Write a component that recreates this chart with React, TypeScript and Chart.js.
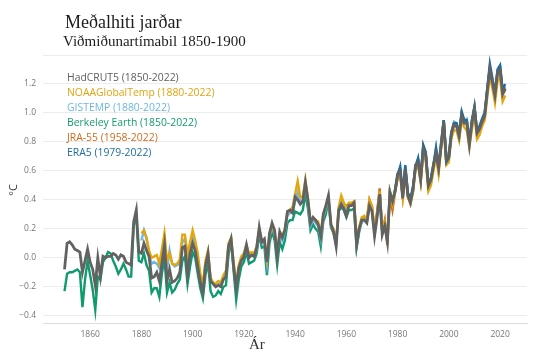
import { useEffect, useRef } from 'react';
import { Chart, registerables } from 'chart.js';

Chart.register(...registerables);

const TITLE = 'Meðalhiti jarðar';
const SUBTITLE = 'Viðmiðunartímabil 1850-1900';
const Y_TITLE = '°C';
const X_TITLE = 'Ár';

const yTickValues = [-0.4, -0.2, 0, 0.2, 0.4, 0.6, 0.8, 1.0, 1.2, 1.4];
const xTickValues = [1860, 1880, 1900, 1920, 1940, 1960, 1980, 2000, 2020];

const hadcrutStart = 1850;
const hadcrut5 = [
  -0.08, 0.10, 0.11, 0.09, 0.06, 0.05, 0.04, -0.10, -0.02, 0.06,
  -0.03, -0.08, -0.19, 0.00, -0.13, 0.01, 0.00, 0.01, 0.01, 0.03,
  0.02, -0.01, 0.02, 0.01, -0.03, -0.04, -0.05, 0.25, 0.33, 0.04,
  0.03, 0.10, 0.05, 0.01, -0.14, -0.13, -0.10, -0.16, -0.04, 0.09,
  -0.16, -0.08, -0.17, -0.16, -0.14, -0.10, 0.07, 0.08, -0.12, 0.03,
  0.10, 0.05, -0.06, -0.17, -0.24, -0.06, 0.03, -0.16, -0.18, -0.20,
  -0.19, -0.20, -0.15, -0.13, 0.08, 0.13, -0.06, -0.21, -0.07, -0.02,
  0.01, 0.09, 0.00, 0.02, 0.01, 0.07, 0.21, 0.11, 0.13, -0.03,
  0.17, 0.24, 0.19, 0.01, 0.18, 0.14, 0.19, 0.32, 0.33, 0.31,
  0.42, 0.40, 0.37, 0.39, 0.52, 0.40, 0.24, 0.28, 0.26, 0.23,
  0.15, 0.30, 0.36, 0.43, 0.23, 0.18, 0.08, 0.33, 0.37, 0.34,
  0.29, 0.36, 0.36, 0.38, 0.09, 0.20, 0.26, 0.26, 0.24, 0.36,
  0.32, 0.15, 0.28, 0.44, 0.16, 0.22, 0.11, 0.45, 0.39, 0.46,
  0.58, 0.60, 0.41, 0.61, 0.43, 0.38, 0.47, 0.64, 0.66, 0.54,
  0.75, 0.70, 0.50, 0.54, 0.64, 0.72, 0.62, 0.78, 0.94, 0.68,
  0.70, 0.86, 0.92, 0.91, 0.84, 0.98, 0.93, 0.93, 0.78, 0.93,
  1.03, 0.86, 0.89, 0.94, 0.98, 1.15, 1.30, 1.21, 1.12, 1.28,
  1.30, 1.13, 1.17,
];

const noaaStart = 1880;
const noaaGlobalTemp = [
  0.17, 0.19, 0.14, 0.05, 0.00, 0.01, 0.02, -0.04, 0.06, 0.17,
  -0.02, 0.03, -0.04, -0.05, -0.04, -0.01, 0.16, 0.16, 0.02, 0.11,
  0.19, 0.12, 0.03, -0.11, -0.18, -0.02, 0.05, -0.14, -0.17, -0.18,
  -0.16, -0.17, -0.12, -0.09, 0.10, 0.14, -0.03, -0.18, -0.05, 0.01,
  0.03, 0.09, 0.03, 0.04, 0.03, 0.08, 0.20, 0.12, 0.12, -0.01,
  0.16, 0.22, 0.18, 0.04, 0.17, 0.15, 0.20, 0.31, 0.33, 0.35,
  0.44, 0.53, 0.42, 0.42, 0.54, 0.41, 0.25, 0.27, 0.26, 0.25,
  0.16, 0.30, 0.36, 0.42, 0.23, 0.20, 0.11, 0.35, 0.43, 0.38,
  0.35, 0.38, 0.38, 0.39, 0.14, 0.21, 0.28, 0.29, 0.26, 0.40,
  0.36, 0.19, 0.30, 0.46, 0.20, 0.25, 0.13, 0.45, 0.37, 0.45,
  0.55, 0.58, 0.42, 0.60, 0.42, 0.37, 0.45, 0.61, 0.64, 0.52,
  0.72, 0.67, 0.46, 0.50, 0.60, 0.70, 0.58, 0.76, 0.90, 0.64,
  0.66, 0.83, 0.88, 0.88, 0.81, 0.95, 0.90, 0.88, 0.76, 0.89,
  0.98, 0.82, 0.85, 0.91, 0.95, 1.11, 1.25, 1.17, 1.07, 1.22,
  1.24, 1.08, 1.12,
];

const gistempStart = 1880;
const gistemp = [
  0.12, 0.19, 0.13, 0.02, -0.04, -0.03, -0.04, -0.07, 0.00, 0.12,
  -0.08, 0.05, -0.04, -0.06, -0.05, -0.04, 0.11, 0.13, -0.02, 0.08,
  0.15, 0.09, -0.01, -0.13, -0.20, -0.06, 0.02, -0.15, -0.18, -0.20,
  -0.18, -0.18, -0.14, -0.12, 0.07, 0.13, -0.06, -0.20, -0.07, -0.02,
  0.01, 0.08, 0.00, 0.02, 0.01, 0.06, 0.19, 0.10, 0.11, -0.04,
  0.15, 0.21, 0.16, 0.03, 0.15, 0.12, 0.18, 0.29, 0.31, 0.31,
  0.39, 0.45, 0.39, 0.39, 0.50, 0.38, 0.22, 0.26, 0.24, 0.22,
  0.13, 0.28, 0.34, 0.41, 0.22, 0.18, 0.09, 0.33, 0.39, 0.36,
  0.31, 0.37, 0.37, 0.38, 0.10, 0.19, 0.26, 0.27, 0.25, 0.38,
  0.34, 0.17, 0.29, 0.45, 0.18, 0.24, 0.12, 0.45, 0.38, 0.47,
  0.58, 0.62, 0.43, 0.63, 0.45, 0.40, 0.48, 0.64, 0.68, 0.56,
  0.77, 0.72, 0.51, 0.55, 0.65, 0.76, 0.64, 0.80, 0.95, 0.70,
  0.72, 0.87, 0.94, 0.93, 0.86, 1.00, 0.95, 0.96, 0.81, 0.95,
  1.05, 0.88, 0.91, 0.96, 1.01, 1.17, 1.32, 1.23, 1.14, 1.29,
  1.32, 1.15, 1.18,
];

const berkeleyStart = 1850;
const berkeleyEarth = [
  -0.23, -0.11, -0.10, -0.10, -0.09, -0.08, -0.10, -0.34, -0.15, -0.02,
  -0.12, -0.22, -0.36, -0.13, -0.15, -0.03, 0.00, 0.04, 0.03, -0.02,
  -0.06, -0.11, -0.08, -0.04, -0.08, -0.13, -0.13, 0.22, 0.30, -0.02,
  -0.03, 0.03, -0.05, -0.09, -0.24, -0.21, -0.21, -0.27, -0.11, 0.00,
  -0.24, -0.17, -0.24, -0.22, -0.18, -0.15, -0.02, 0.01, -0.18, -0.06,
  0.04, 0.00, -0.11, -0.21, -0.28, -0.12, -0.03, -0.23, -0.27, -0.26,
  -0.23, -0.25, -0.20, -0.19, 0.02, 0.12, -0.09, -0.29, -0.15, -0.06,
  -0.03, 0.04, -0.04, -0.03, -0.02, 0.03, 0.16, 0.07, 0.08, -0.12,
  0.10, 0.18, 0.12, -0.05, 0.11, 0.06, 0.12, 0.24, 0.26, 0.26,
  0.32, 0.31, 0.30, 0.33, 0.44, 0.34, 0.19, 0.23, 0.20, 0.18,
  0.08, 0.25, 0.30, 0.40, 0.21, 0.17, 0.10, 0.32, 0.35, 0.33,
  0.28, 0.33, 0.33, 0.34, 0.07, 0.18, 0.25, 0.27, 0.25, 0.36,
  0.33, 0.17, 0.30, 0.45, 0.18, 0.24, 0.13, 0.46, 0.39, 0.47,
  0.56, 0.60, 0.42, 0.61, 0.44, 0.39, 0.48, 0.63, 0.67, 0.55,
  0.75, 0.71, 0.50, 0.55, 0.64, 0.74, 0.63, 0.79, 0.95, 0.69,
  0.71, 0.87, 0.93, 0.92, 0.85, 0.99, 0.94, 0.95, 0.80, 0.94,
  1.04, 0.87, 0.90, 0.95, 1.00, 1.15, 1.30, 1.22, 1.13, 1.27,
  1.30, 1.14, 1.17,
];

const jra55Start = 1958;
const jra55 = [
  0.42, 0.37,
  0.36, 0.37, 0.36, 0.38, 0.12, 0.20, 0.27, 0.28, 0.27, 0.40,
  0.35, 0.19, 0.32, 0.48, 0.18, 0.26, 0.09, 0.43, 0.33, 0.45,
  0.55, 0.58, 0.42, 0.60, 0.42, 0.38, 0.46, 0.62, 0.65, 0.53,
  0.73, 0.69, 0.48, 0.52, 0.62, 0.72, 0.60, 0.77, 0.93, 0.67,
  0.69, 0.85, 0.91, 0.91, 0.84, 0.98, 0.93, 0.93, 0.79, 0.93,
  1.02, 0.86, 0.89, 0.94, 0.98, 1.15, 1.29, 1.20, 1.11, 1.27,
  1.28, 1.13, 1.16,
];

const era5Start = 1979;
const era5 = [
  0.46,
  0.57, 0.63, 0.45, 0.64, 0.45, 0.41, 0.49, 0.63, 0.69, 0.56,
  0.78, 0.73, 0.50, 0.54, 0.64, 0.76, 0.63, 0.78, 0.95, 0.66,
  0.69, 0.86, 0.93, 0.93, 0.86, 1.01, 0.95, 0.95, 0.80, 0.95,
  1.04, 0.87, 0.91, 0.96, 1.00, 1.17, 1.34, 1.24, 1.14, 1.30,
  1.33, 1.16, 1.20,
];

const legendLabels = [
  'HadCRUT5 (1850-2022)',
  'NOAAGlobalTemp (1880-2022)',
  'GISTEMP (1880-2022)',
  'Berkeley Earth (1850-2022)',
  'JRA-55 (1958-2022)',
  'ERA5 (1979-2022)',
];
const legendColors = ['#606060', '#e2a310', '#6db6e3', '#139a70', '#d06b1c', '#1f6c9f'];

const toPoints = (start: number, vals: number[]) => vals.map((v, i) => ({ x: start + i, y: v }));

const fmtY = (v: number) => {
  const s = Math.abs(v).toFixed(1);
  return v < -0.001 ? '\u2212' + s : s;
};

export default function App() {
  const ref = useRef<HTMLCanvasElement>(null);

  useEffect(() => {
    if (!ref.current) return;

    const textPlugin = {
      id: 'texts',
      afterDraw(chart: any) {
        const ctx = chart.ctx;
        ctx.save();
        ctx.fillStyle = '#1c1c1c';
        ctx.textAlign = 'left';
        ctx.textBaseline = 'alphabetic';
        ctx.font = '18px "Liberation Serif"';
        ctx.fillText(TITLE, 65, 28);
        ctx.font = '15px "Liberation Serif"';
        ctx.fillText(SUBTITLE, 63, 46);

        ctx.font = '10.4px "Open Sans"';
        ctx.textBaseline = 'middle';
        legendLabels.forEach((t, i) => {
          ctx.fillStyle = legendColors[i];
          ctx.fillText(t, 67, 78.5 + i * 14.85);
        });

        ctx.fillStyle = '#333';
        ctx.font = '15px "Liberation Serif"';
        ctx.textBaseline = 'alphabetic';
        ctx.fillText(X_TITLE, 249, 349);

        ctx.translate(14, 190);
        ctx.rotate(-Math.PI / 2);
        ctx.textAlign = 'center';
        ctx.textBaseline = 'middle';
        ctx.font = '11px "Open Sans"';
        ctx.fillText(Y_TITLE, 0, 0);
        ctx.restore();
      },
    };

    const line = (label: string, data: any[], color: string, width: number) => ({
      label,
      data,
      borderColor: color,
      backgroundColor: color,
      borderWidth: width,
      pointRadius: 0,
      tension: 0,
      fill: false,
    });

    const chart = new Chart(ref.current, {
      type: 'line',
      data: {
        datasets: [
          line('HadCRUT5', toPoints(hadcrutStart, hadcrut5), '#626262', 2.8),
          line('ERA5', toPoints(era5Start, era5), '#1f6c9f', 2.4),
          line('NOAAGlobalTemp', toPoints(noaaStart, noaaGlobalTemp), '#e5a50c', 2.4),
          line('GISTEMP', toPoints(gistempStart, gistemp), '#6db6e3', 2.4),
          line('JRA-55', toPoints(jra55Start, jra55), '#d06b1c', 2.4),
          line('Berkeley Earth', toPoints(berkeleyStart, berkeleyEarth), '#0f9a6f', 2.4),
        ],
      },
      options: {
        responsive: false,
        animation: false,
        devicePixelRatio: 1,
        layout: { padding: { top: 55, right: 13, left: 0, bottom: 0 } },
        plugins: { legend: { display: false }, tooltip: { enabled: false }, title: { display: false } },
        scales: {
          x: {
            type: 'linear',
            min: 1841.6,
            max: 2030.5,
            afterBuildTicks: (s: any) => {
              s.ticks = xTickValues.map((v) => ({ value: v }));
            },
            afterFit: (s: any) => {
              s.height = 29;
            },
            grid: { display: false, drawTicks: false },
            border: { display: true, color: '#dcdcdc', width: 1 },
            ticks: {
              padding: 6,
              color: '#777',
              font: { family: 'Open Sans', size: 8.5 },
              maxRotation: 0,
              callback: (v: any) => String(v),
            },
          },
          y: {
            type: 'linear',
            min: -0.45,
            max: 1.4,
            afterBuildTicks: (s: any) => {
              s.ticks = yTickValues.map((v) => ({ value: v }));
            },
            afterFit: (s: any) => {
              s.width = 43;
            },
            grid: { color: '#ececec', drawTicks: false, lineWidth: 1 },
            border: { display: false },
            ticks: {
              padding: 7,
              color: '#777',
              font: { family: 'Open Sans', size: 8.5 },
              callback: (v: any) => (v > 1.3 ? '' : fmtY(Number(v))),
            },
          },
        },
      },
      plugins: [textPlugin],
    } as any);

    return () => chart.destroy();
  }, []);

  return (
    <div style={{ position: 'fixed', left: 0, top: 0, width: 540, height: 352, background: '#fff' }}>
      <canvas ref={ref} width={540} height={352} style={{ display: 'block', width: 540, height: 352 }} />
    </div>
  );
}
